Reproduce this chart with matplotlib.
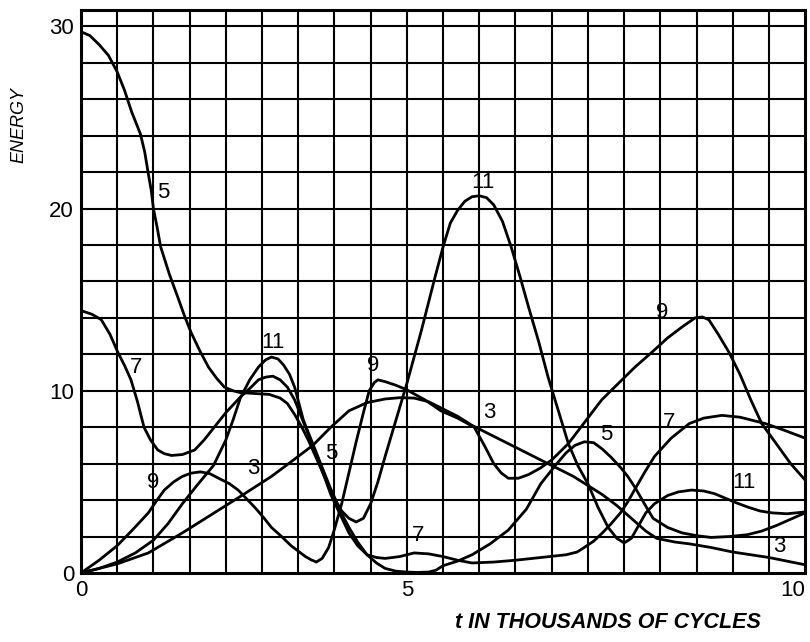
import numpy as np
import matplotlib
matplotlib.use("Agg")
import matplotlib.pyplot as plt

plt.rcParams['font.family'] = ['Liberation Sans', 'DejaVu Sans']

# energy of modes 3, 5, 7, 9, 11
x3 = [0, 0.5, 0.93, 1.4, 1.84, 2.2, 2.63, 2.9, 3.2, 3.45, 3.7, 3.95, 4.2, 4.4, 4.6, 4.8, 5.0, 5.2, 5.4, 5.65,
      5.9, 6.15, 6.4, 6.6, 6.8, 7.0, 7.2, 7.4, 7.6, 7.8, 7.95, 8.2, 8.4, 8.7, 9.0, 9.25, 9.5, 9.75, 10]
y3 = [0, 0.5, 1.1, 2.2, 3.3, 4.2, 5.3, 6.1, 7.0, 8.0, 8.9, 9.35, 9.55, 9.62, 9.6, 9.4, 9.0, 8.6, 8.1, 7.6,
      7.1, 6.6, 6.1, 5.7, 5.3, 4.8, 4.3, 3.7, 3.0, 2.3, 1.9, 1.7, 1.6, 1.4, 1.15, 1.0, 0.85, 0.65, 0.45]

x5 = [0, 0.12, 0.25, 0.38, 0.5, 0.6, 0.7, 0.76, 0.82, 0.88, 0.93, 0.97, 1.0, 1.05, 1.1, 1.22, 1.34, 1.43, 1.52,
      1.64, 1.76, 1.87, 1.98, 2.1, 2.2, 2.4, 2.6, 2.75, 2.85, 2.95, 3.05, 3.15, 3.25, 3.35, 3.45, 3.58, 3.7,
      3.82, 3.95, 4.08, 4.2, 4.35, 4.5, 4.65, 4.8, 4.9, 5.0, 5.2, 5.4, 5.65, 5.9, 6.15, 6.35, 6.55, 6.7, 6.82,
      6.95, 7.08, 7.2, 7.32, 7.45, 7.55, 7.65, 7.78, 7.9, 8.1, 8.3, 8.5, 8.7, 8.95, 9.2, 9.4, 9.6, 9.8, 10]
y5 = [29.7, 29.5, 29.0, 28.4, 27.5, 26.5, 25.3, 24.7, 24.1, 23.1, 21.9, 21.0, 20.0, 19.0, 17.9, 16.4, 15.1,
      14.1, 13.2, 12.2, 11.3, 10.7, 10.2, 10.0, 9.9, 9.85, 9.8, 9.6, 9.3, 8.7, 8.0, 7.2, 6.3, 5.4, 4.5, 3.4,
      2.5, 1.7, 1.0, 0.55, 0.25, 0.1, 0.05, 0.03, 0.05, 0.15, 0.4, 0.65, 1.0, 1.6, 2.35, 3.5, 4.9, 5.9, 6.6,
      7.0, 7.2, 7.15, 6.8, 6.35, 5.8, 5.3, 4.7, 3.8, 3.0, 2.5, 2.2, 2.05, 1.95, 2.0, 2.1, 2.3, 2.6, 2.95, 3.3]

x7 = [0, 0.15, 0.28, 0.4, 0.51, 0.6, 0.69, 0.78, 0.87, 0.96, 1.06, 1.15, 1.25, 1.4, 1.57, 1.7, 1.84, 2.0,
      2.2, 2.35, 2.45, 2.55, 2.65, 2.75, 2.85, 2.95, 3.05, 3.15, 3.25, 3.35, 3.45, 3.58, 3.7, 3.82, 3.95,
      4.08, 4.2, 4.4, 4.6, 4.8, 5.0, 5.2, 5.4, 5.7, 6.0, 6.35, 6.7, 6.85, 6.95, 7.08, 7.2, 7.32, 7.45, 7.55,
      7.65, 7.78, 7.92, 8.15, 8.4, 8.6, 8.85, 9.1, 9.45, 9.7, 10]
y7 = [14.4, 14.2, 13.9, 13.1, 12.1, 11.4, 10.6, 9.4, 8.0, 7.3, 6.75, 6.55, 6.45, 6.5, 6.75, 7.3, 8.0, 8.8,
      9.65, 10.2, 10.6, 10.75, 10.8, 10.6, 10.2, 9.5, 8.5, 7.5, 6.5, 5.4, 4.3, 3.2, 2.2, 1.5, 1.0, 0.85,
      0.8, 0.9, 1.1, 1.05, 0.9, 0.7, 0.55, 0.6, 0.7, 0.85, 1.0, 1.15, 1.4, 1.75, 2.2, 2.7, 3.3, 3.9, 4.6,
      5.5, 6.4, 7.4, 8.2, 8.5, 8.65, 8.55, 8.2, 7.85, 7.4]

x9 = [0, 0.25, 0.5, 0.72, 0.93, 1.05, 1.15, 1.28, 1.4, 1.52, 1.65, 1.78, 1.9, 2.05, 2.17, 2.28, 2.4, 2.52,
      2.63, 2.77, 2.9, 3.0, 3.1, 3.18, 3.25, 3.33, 3.42, 3.5, 3.6, 3.7, 3.8, 3.9, 3.98, 4.05, 4.1, 4.2, 4.35,
      4.5, 4.75, 4.97, 5.2, 5.43, 5.57, 5.7, 5.8, 5.9, 6.04, 6.18, 6.34, 6.5, 6.73, 6.96, 7.19, 7.42, 7.65,
      7.88, 8.1, 8.3, 8.48, 8.58, 8.67, 8.8, 8.95, 9.1, 9.25, 9.4, 9.6, 9.8, 10]
y9 = [0, 0.7, 1.5, 2.4, 3.3, 4.0, 4.55, 5.0, 5.3, 5.48, 5.55, 5.45, 5.2, 4.9, 4.55, 4.1, 3.6, 3.05, 2.5,
      2.0, 1.5, 1.2, 0.9, 0.72, 0.6, 0.8, 1.4, 2.4, 3.8, 5.5, 7.2, 8.8, 10.0, 10.45, 10.6, 10.5, 10.3, 10.05,
      9.5, 8.9, 8.5, 8.0, 7.0, 6.0, 5.5, 5.2, 5.2, 5.4, 5.75, 6.2, 7.1, 8.3, 9.5, 10.4, 11.3, 12.1, 12.9,
      13.5, 14.0, 14.05, 13.9, 13.1, 12.1, 10.9, 9.5, 8.2, 7.1, 6.0, 5.1]

x11 = [0, 0.25, 0.5, 0.75, 1.0, 1.2, 1.4, 1.6, 1.83, 2.0, 2.1, 2.2, 2.33, 2.45, 2.55, 2.63, 2.72, 2.8, 2.88,
       2.95, 3.07, 3.17, 3.27, 3.36, 3.45, 3.53, 3.6, 3.7, 3.8, 3.9, 4.0, 4.1, 4.2, 4.35, 4.5, 4.7, 4.88,
       5.0, 5.1, 5.2, 5.3, 5.4, 5.5, 5.6, 5.7, 5.82, 5.94, 6.06, 6.18, 6.32, 6.45, 6.6, 6.73, 6.86, 7.0,
       7.14, 7.28, 7.4, 7.5, 7.6, 7.7, 7.8, 7.92, 8.1, 8.25, 8.43, 8.6, 8.75, 8.9, 9.05, 9.22, 9.38, 9.54,
       9.75, 10]
y11 = [0, 0.25, 0.6, 1.1, 1.8, 2.7, 3.8, 4.8, 5.9, 7.3, 8.4, 9.6, 10.6, 11.3, 11.7, 11.85, 11.75, 11.4,
       10.9, 10.2, 8.4, 7.4, 6.4, 5.5, 4.6, 3.9, 3.4, 3.0, 2.8, 3.0, 3.8, 5.0, 6.4, 8.4, 10.4, 13.3, 16.1,
       17.9, 19.2, 19.9, 20.4, 20.65, 20.7, 20.6, 20.2, 19.3, 17.9, 16.3, 14.6, 12.7, 10.75, 8.8, 7.1, 5.9,
       4.9, 3.6, 2.5, 1.9, 1.65, 1.9, 2.6, 3.3, 3.8, 4.25, 4.45, 4.55, 4.5, 4.35, 4.1, 3.85, 3.6, 3.4, 3.3,
       3.25, 3.35]

series = [(x3, y3), (x5, y5), (x7, y7), (x9, y9), (x11, y11)]

# curve labels: text, x, y
label_txt = ['5', '7', '9', '3', '11', '5', '9', '7', '11', '3', '5', '9', '7', '11', '3']
label_x = [1.14, 0.76, 1.0, 2.38, 2.65, 3.45, 4.04, 4.65, 5.55, 5.64, 7.26, 8.02, 8.12, 9.16, 9.64]
label_y = [20.9, 11.3, 4.94, 5.76, 12.67, 6.58, 11.4, 2.08, 21.45, 8.83, 7.62, 14.3, 8.28, 4.94, 1.43]

fig = plt.figure(figsize=(8.1, 6.42), dpi=100)
ax = fig.add_axes([0.1, 0.1075, 0.894, 0.877])

# graph-paper grid
for gx in np.arange(0.5, 10, 0.5):
    ax.axvline(gx, color='black', lw=1.5, zorder=1)
for gy in np.arange(2, 31, 2):
    ax.axhline(gy, color='black', lw=1.5, zorder=1)

for xs, ys in series:
    ax.plot(xs, ys, color='black', lw=2.0, zorder=3, solid_capstyle='round', solid_joinstyle='round')

for t, lx, ly in zip(label_txt, label_x, label_y):
    ax.text(lx, ly, t, fontsize=16, ha='center', va='center', zorder=4)

ax.set_xlim(0, 10)
ax.set_ylim(0, 30.9)
for s in ax.spines.values():
    s.set_linewidth(2.2)

ax.set_xticks([0, 4.5, 10])
ax.set_xticklabels(['0', '5', '10'])
ax.set_yticks([0, 10, 20, 30])
ax.set_yticklabels(['0', '10', '20', '30'])
ax.tick_params(length=0, labelsize=16, pad=5)
ax.get_xticklabels()[-1].set_horizontalalignment('right')

ax.set_ylabel('ENERGY', fontsize=13, fontstyle='italic')
ax.yaxis.set_label_coords(-0.074, 0.796)
ax.set_xlabel('t IN THOUSANDS OF CYCLES', fontsize=15.5, fontstyle='italic', fontweight='bold')
ax.xaxis.set_label_coords(0.728, -0.07)

fig.savefig('out.png', dpi=100)
